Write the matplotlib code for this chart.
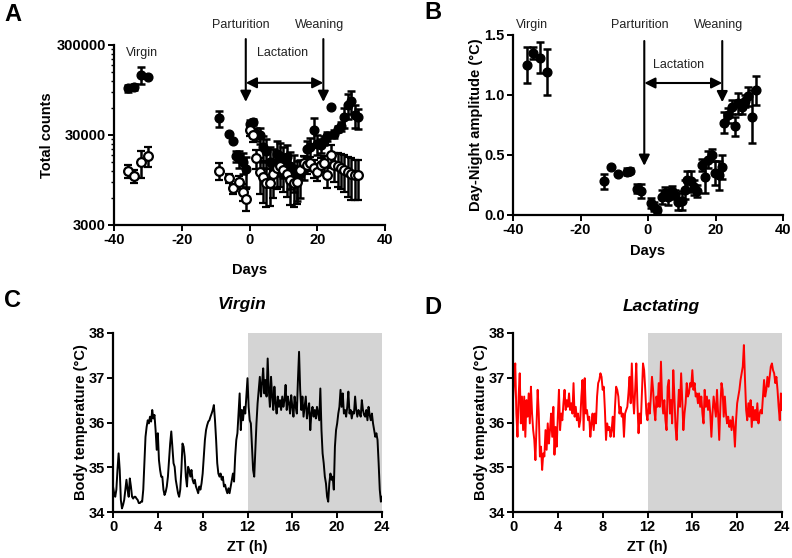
import numpy as np
import matplotlib
matplotlib.use("Agg")
import matplotlib.pyplot as plt
from matplotlib.ticker import FixedLocator, NullFormatter

plt.rcParams['font.family'] = ['Liberation Sans', 'DejaVu Sans']
plt.rcParams['axes.unicode_minus'] = False

# ---------------- Panel A data ----------------
a_filled_days = [-36, -34, -32, -30, -9, -6, -5, -4, -3, -2, -1, 0, 1, 2, 3, 4, 5, 6, 7, 8, 9, 10,
                 11, 12, 13, 14, 15, 16, 17, 18, 19, 20, 21, 22, 23, 24, 25, 26, 27, 28, 29, 30, 31, 32]
a_filled_vals = [99000, 103000, 141000, 133000, 46000, 30500, 25800, 17500, 16500, 15000, 12500,
                 40000, 42000, 31000, 30000, 22000, 20000, 15000, 14500, 18500, 17500, 16000,
                 17000, 13500, 12500, 10500, 11000, 13500, 21000, 22000, 34000, 24000, 23000,
                 26000, 29000, 62000, 31000, 35000, 37500, 48000, 65000, 72000, 50000, 47000]
a_filled_err = [10000, 9000, 30000, 0, 9000, 0, 0, 2500, 3500, 4000, 4500,
                4000, 3000, 5000, 6000, 7000, 7000, 7000, 6500, 7000, 7000, 6000,
                6000, 6000, 5500, 5000, 5000, 4000, 5000, 6000, 12000, 6000, 4000,
                3000, 3000, 0, 3000, 3000, 4000, 12000, 20000, 20000, 14000, 12000]

a_open_days = [-36, -34, -32, -30, -9, -6, -5, -3, -2, -1, 0, 1, 2, 3, 4, 5, 6, 7, 8, 9, 10,
               11, 12, 13, 14, 15, 16, 17, 18, 19, 20, 21, 22, 23, 24, 25, 26, 27, 28, 29, 30, 31, 32]
a_open_vals = [11950, 10500, 15000, 17500, 12000, 9900, 7660, 9090, 7030, 5900, 34000, 30000,
               16500, 11700, 10300, 8700, 8700, 11000, 13000, 13500, 12400, 11200, 9500, 8700,
               9100, 12400, 14500, 14000, 14500, 13000, 11700, 14000, 14500, 10700, 18000,
               14000, 13500, 13000, 12400, 11700, 11200, 10700, 10700]
a_open_err = [1900, 1800, 5000, 4400, 2500, 1200, 1000, 1500, 1500, 1600, 5000, 5000,
              4000, 5000, 5000, 4000, 3800, 5000, 5500, 5500, 5500, 5000, 4500, 4000,
              4000, 3000, 3000, 3000, 2500, 3000, 2500, 2500, 3000, 3000, 5000,
              5000, 5500, 5500, 5500, 5500, 5500, 5000, 5000]

# ---------------- Panel B data ----------------
b_days = [-36, -34, -32, -30, -13, -11, -9, -6.3, -5.3, -3.2, -2.2, 0.8, 1.8, 2.8, 4, 5, 6, 7, 8,
          9, 10, 11, 11.6, 12.6, 13.6, 14.5, 15.9, 16.9, 17.9, 18.9, 19.9, 20.9, 21.9, 22.5,
          23.8, 24.8, 25.8, 26.8, 27.8, 28.8, 29.7, 30.7, 32]
b_vals = [1.25, 1.35, 1.31, 1.19, 0.28, 0.40, 0.34, 0.36, 0.37, 0.22, 0.20, 0.10, 0.07, 0.04,
          0.15, 0.18, 0.15, 0.20, 0.17, 0.11, 0.12, 0.21, 0.29, 0.28, 0.23, 0.20, 0.42, 0.32,
          0.46, 0.50, 0.35, 0.33, 0.40, 0.77, 0.83, 0.90, 0.74, 0.93, 0.90, 0.95, 0.99, 0.82, 1.04]
b_err = [0.15, 0.05, 0.13, 0.19, 0.06, 0.0, 0.0, 0.03, 0.02, 0.04, 0.06, 0.04, 0.04, 0.03,
         0.06, 0.05, 0.07, 0.04, 0.04, 0.07, 0.08, 0.08, 0.08, 0.09, 0.06, 0.05, 0.05, 0.14,
         0.07, 0.05, 0.10, 0.12, 0.10, 0.09, 0.06, 0.06, 0.08, 0.09, 0.06, 0.05, 0.08, 0.22, 0.12]

# ---------------- Panel C / D data (ZT 0..24, every 0.1 h) ----------------
zt = np.round(np.arange(0, 24.05, 0.1), 1)
virgin_temp = [
    34.57, 34.42, 34.34, 34.50, 34.94, 35.31, 34.94, 34.27, 34.08, 34.16,
    34.27, 34.50, 34.72, 34.50, 34.34, 34.75, 34.57, 34.34, 34.30, 34.34,
    34.34, 34.30, 34.27, 34.20, 34.20, 34.23, 34.23, 34.50, 35.09, 35.68,
    35.90, 36.05, 35.98, 36.13, 36.02, 36.28, 36.09, 36.17, 35.83, 35.39,
    35.76, 35.16, 34.94, 34.79, 34.79, 34.50, 34.38, 34.45, 34.57, 34.79,
    35.16, 35.53, 35.80, 35.46, 35.09, 35.01, 34.72, 34.57, 34.42, 34.34,
    34.50, 34.94, 35.53, 35.46, 35.24, 34.79, 34.57, 35.01, 34.94, 34.79,
    34.94, 34.72, 34.64, 34.72, 34.57, 34.50, 34.42, 34.57, 34.50, 34.64,
    34.86, 35.24, 35.61, 35.83, 35.94, 36.02, 36.05, 36.13, 36.20, 36.28,
    36.39, 36.05, 35.61, 35.09, 34.86, 34.79, 34.86, 34.72, 34.79, 34.57,
    34.61, 34.50, 34.42, 34.53, 34.42, 34.57, 34.72, 34.86, 34.68, 35.24,
    35.61, 35.76, 36.20, 36.65, 35.83, 36.28, 36.05, 36.35, 36.20, 36.58,
    36.99, 36.35, 36.05, 35.98, 35.46, 34.94, 34.79, 35.39, 35.98, 36.43,
    36.73, 37.02, 36.58, 36.88, 37.21, 36.65, 36.95, 36.58, 37.43, 36.73,
    36.35, 37.02, 36.58, 36.28, 36.80, 36.43, 36.20, 36.58, 36.35, 36.50,
    36.28, 36.58, 36.35, 36.50, 36.84, 36.28, 36.58, 36.43, 36.20, 36.61,
    36.35, 36.13, 36.58, 36.35, 36.20, 36.95, 37.58, 36.73, 36.28, 36.58,
    36.13, 36.35, 36.58, 36.09, 36.28, 36.43, 35.83, 36.20, 36.35, 36.13,
    36.28, 36.09, 36.35, 36.20, 36.05, 36.76, 35.83, 35.31, 35.09, 34.79,
    34.64, 34.34, 34.23, 34.64, 34.86, 34.72, 34.79, 34.50, 35.46, 35.83,
    35.98, 36.20, 36.35, 36.73, 36.35, 36.65, 36.20, 36.28, 36.13, 36.35,
    36.69, 36.20, 36.28, 36.09, 36.24, 36.20, 36.58, 36.28, 36.13, 36.28,
    36.20, 36.13, 36.50, 36.28, 36.17, 36.13, 36.28, 36.05, 36.35, 36.17,
    36.05, 36.20, 35.98, 35.83, 35.68, 35.76, 35.61, 35.09, 34.50, 34.23,
    34.34]
lactating_temp = [
    36.50, 36.95, 37.32, 36.20, 35.68, 36.58, 37.10, 35.98, 36.58, 35.83,
    36.58, 35.68, 36.50, 36.13, 36.65, 35.98, 36.80, 36.20, 35.83, 35.61,
    35.16, 35.98, 36.73, 36.20, 35.24, 35.46, 34.94, 35.31, 35.24, 35.83,
    35.39, 35.98, 35.53, 35.83, 36.20, 35.68, 36.35, 35.28, 35.90, 35.46,
    36.13, 36.73, 35.83, 36.20, 36.05, 36.43, 36.73, 36.28, 36.50, 36.35,
    36.65, 36.28, 36.43, 36.20, 36.88, 36.13, 36.35, 36.05, 36.20, 35.90,
    36.05, 36.58, 36.95, 35.83, 36.99, 36.20, 36.28, 36.05, 36.13, 35.68,
    35.98, 36.20, 35.83, 36.20, 35.98, 36.58, 36.88, 36.95, 37.10, 37.02,
    36.73, 36.80, 36.28, 35.61, 35.98, 35.83, 35.90, 35.68, 35.83, 36.13,
    35.68, 36.35, 36.80, 36.73, 36.58, 36.20, 36.35, 36.13, 36.20, 35.68,
    36.20, 36.28, 36.35, 36.65, 37.02, 36.43, 37.32, 36.58, 36.20, 36.73,
    37.32, 36.43, 35.76, 36.20, 35.98, 36.65, 37.32, 37.17, 36.73, 36.20,
    36.05, 36.43, 36.20, 36.58, 37.02, 36.73, 36.28, 36.05, 36.58, 36.35,
    36.88, 36.35, 37.36, 36.50, 36.20, 36.50, 36.05, 35.83, 36.80, 36.95,
    36.20, 36.50, 35.98, 37.17, 36.58, 35.90, 35.61, 36.20, 36.73, 36.35,
    37.10, 36.50, 35.83, 36.20, 36.43, 36.88, 36.58, 36.65, 36.88, 36.80,
    37.17, 36.73, 36.88, 36.58, 36.65, 36.43, 36.65, 36.35, 36.58, 36.20,
    35.98, 36.73, 36.35, 36.58, 36.28, 36.50, 36.20, 35.68, 36.20, 36.58,
    36.35, 36.13, 36.73, 36.20, 35.61, 36.35, 36.88, 36.73, 36.13, 36.58,
    36.20, 35.98, 36.13, 35.90, 36.05, 35.83, 36.13, 35.90, 35.46, 36.05,
    36.43, 36.58, 36.73, 36.95, 37.10, 37.25, 37.73, 36.95, 36.28, 36.05,
    36.43, 36.13, 36.50, 35.90, 36.35, 36.05, 36.28, 36.05, 36.43, 35.98,
    36.20, 36.28, 36.20, 36.58, 36.95, 36.58, 36.73, 37.02, 36.80, 37.02,
    37.25, 37.32, 37.17, 37.10, 36.88, 37.02, 36.73, 36.35, 36.05, 36.65,
    36.28]

day_ticks = [-40, -20, 0, 20, 40]
zt_ticks = [0, 4, 8, 12, 16, 20, 24]
temp_ticks = [34, 35, 36, 37, 38]

W, H = 792, 558
fig = plt.figure(figsize=(W / 100, H / 100), dpi=100)

def rect(l, r, t, b):
    return [l / W, 1 - b / H, (r - l) / W, (b - t) / H]

TICKFS = 10.5
LABFS = 10.5
ANNFS = 9
ANNCOL = '#222222'

def style(ax):
    for s in ['top', 'right']:
        ax.spines[s].set_visible(False)
    for s in ['left', 'bottom']:
        ax.spines[s].set_linewidth(1.6)
    ax.tick_params(axis='both', which='major', length=4, width=1.4, labelsize=TICKFS, pad=2)
    ax.tick_params(axis='both', which='minor', length=2.5, width=1.0)
    for lab in ax.get_xticklabels() + ax.get_yticklabels():
        lab.set_fontweight('bold')

# ---------------- Panel A ----------------
axA = fig.add_axes(rect(114, 385, 45, 225))
axA.set_yscale('log')
axA.errorbar(a_filled_days, a_filled_vals, yerr=a_filled_err, fmt='o', color='black',
             ms=6.3, mfc='black', mec='black', elinewidth=1.8, capsize=3, capthick=1.8, zorder=3)
axA.errorbar(a_open_days, a_open_vals, yerr=a_open_err, fmt='o', color='black',
             ms=6.3, mfc='white', mec='black', mew=1.6, elinewidth=1.8, capsize=3, capthick=1.8, zorder=4)
axA.set_xlim(-40, 40)
axA.set_ylim(3000, 300000)
axA.set_xticks(day_ticks)
axA.set_yticks([3000, 30000, 300000])
axA.set_yticklabels(['3000', '30000', '300000'])
minors = [k * 3000 * 10 ** n for n in range(2) for k in range(2, 10)]
axA.yaxis.set_minor_locator(FixedLocator(minors))
axA.yaxis.set_minor_formatter(NullFormatter())
style(axA)
axA.set_xlabel('Days', fontsize=LABFS, fontweight='bold', labelpad=11)
axA.set_ylabel('Total counts', fontsize=LABFS, fontweight='bold', labelpad=2)

trA = axA.get_xaxis_transform()
for xd in [-1.1, 21.8]:
    axA.annotate('', xy=(xd, 70000), xytext=(xd, 1.033), textcoords=trA, xycoords='data',
                 arrowprops=dict(arrowstyle='-|>', lw=1.5, color='black', mutation_scale=16,
                                 shrinkA=0, shrinkB=0))
axA.annotate('', xy=(-1.1, 114000), xytext=(21.8, 114000),
             arrowprops=dict(arrowstyle='<|-|>', lw=1.5, color='black', mutation_scale=16,
                             shrinkA=0, shrinkB=0))
axA.text(-2.6, 1.111, 'Parturition', transform=trA, ha='center', va='center', fontsize=ANNFS, color=ANNCOL)
axA.text(20.8, 1.111, 'Weaning', transform=trA, ha='center', va='center', fontsize=ANNFS, color=ANNCOL)
axA.text(9.9, 0.956, 'Lactation', transform=trA, ha='center', va='center', fontsize=ANNFS, color=ANNCOL)
axA.text(-31.8, 0.957, 'Virgin', transform=trA, ha='center', va='center', fontsize=ANNFS, color=ANNCOL)

# ---------------- Panel B ----------------
axB = fig.add_axes(rect(513, 783, 35, 215))
axB.errorbar(b_days, b_vals, yerr=b_err, fmt='o', color='black', ms=6.3, mfc='black',
             elinewidth=1.8, capsize=3, capthick=1.8, zorder=3)
axB.set_xlim(-40, 40)
axB.set_ylim(0, 1.5)
axB.set_xticks(day_ticks)
axB.set_yticks([0.0, 0.5, 1.0, 1.5])
axB.set_yticklabels(['0.0', '0.5', '1.0', '1.5'])
style(axB)
axB.set_xlabel('Days', fontsize=LABFS, fontweight='bold', labelpad=5)
axB.set_ylabel('Day-Night amplitude (°C)', fontsize=LABFS, fontweight='bold', labelpad=1)
trB = axB.get_xaxis_transform()
axB.annotate('', xy=(-1.1, 0.41), xytext=(-1.1, 1.45),
             arrowprops=dict(arrowstyle='-|>', lw=1.5, color='black', mutation_scale=16, shrinkA=0, shrinkB=0))
axB.annotate('', xy=(22.0, 0.94), xytext=(22.0, 1.45),
             arrowprops=dict(arrowstyle='-|>', lw=1.5, color='black', mutation_scale=16, shrinkA=0, shrinkB=0))
axB.annotate('', xy=(-1.1, 1.10), xytext=(22.0, 1.10),
             arrowprops=dict(arrowstyle='<|-|>', lw=1.5, color='black', mutation_scale=16, shrinkA=0, shrinkB=0))
axB.text(-2.4, 1.056, 'Parturition', transform=trB, ha='center', va='center', fontsize=ANNFS, color=ANNCOL)
axB.text(20.8, 1.056, 'Weaning', transform=trB, ha='center', va='center', fontsize=ANNFS, color=ANNCOL)
axB.text(-34.5, 1.056, 'Virgin', transform=trB, ha='center', va='center', fontsize=ANNFS, color=ANNCOL)
axB.text(9.0, 0.833, 'Lactation', transform=trB, ha='center', va='center', fontsize=ANNFS, color=ANNCOL)

# ---------------- Panels C and D ----------------
def temp_panel(box, temps, color, title, title_xy, ylpad):
    ax = fig.add_axes(box)
    ax.axvspan(12, 24, color='#d4d4d4', lw=0, zorder=0)
    ax.plot(zt, temps, color=color, lw=1.4, zorder=2)
    ax.set_xlim(0, 24)
    ax.set_ylim(34, 38)
    ax.set_xticks(zt_ticks)
    ax.set_yticks(temp_ticks)
    style(ax)
    ax.set_xlabel('ZT (h)', fontsize=LABFS, fontweight='bold', labelpad=4)
    ax.set_ylabel('Body temperature (°C)', fontsize=LABFS, fontweight='bold', labelpad=ylpad)
    fig.text(title_xy[0] / W, 1 - title_xy[1] / H, title, ha='center', va='center',
             fontsize=12.5, fontweight='bold', fontstyle='italic')
    return ax

temp_panel(rect(113, 382, 333, 512), virgin_temp, 'black', 'Virgin', (241.7, 305), 0)
temp_panel(rect(513, 782, 333, 512), lactating_temp, '#ff0000', 'Lactating', (661, 306), 0)

# panel letters
for lab, x, y in [('A', 12.5, 14.5), ('B', 432.5, 12.5), ('C', 12.5, 300.5), ('D', 432.5, 307)]:
    fig.text(x / W, 1 - y / H, lab, ha='center', va='center', fontsize=17, fontweight='bold')

fig.savefig('out.png', dpi=100)
